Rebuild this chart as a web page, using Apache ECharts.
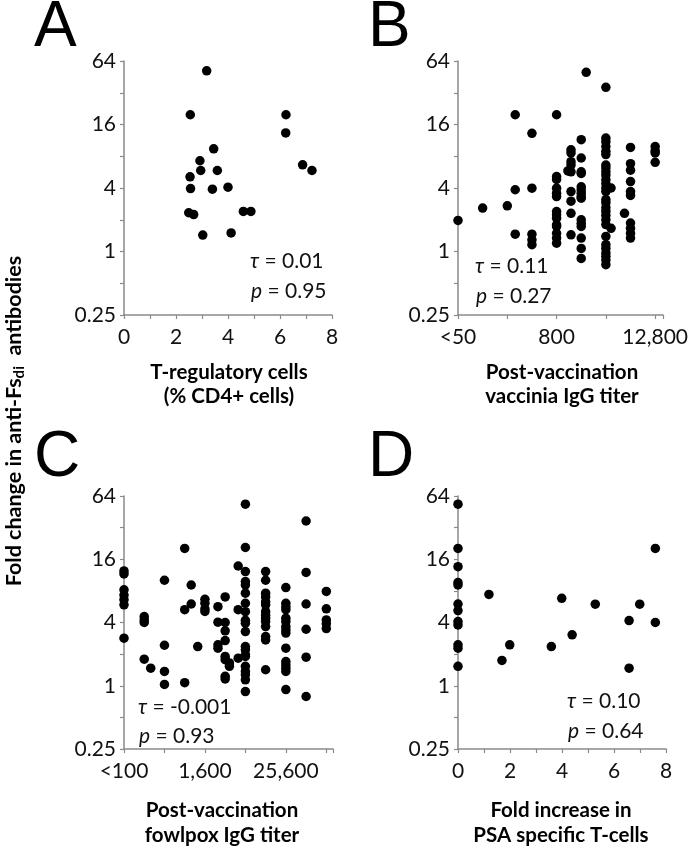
<!DOCTYPE html>
<html>
<head>
<meta charset="utf-8">
<script src="https://cdn.jsdelivr.net/npm/echarts@6/dist/echarts.min.js"></script>
<style>
html,body{margin:0;padding:0;background:#fff;}
#chart{width:691px;height:859px;}
</style>
</head>
<body>
<div id="chart"></div>
<script>
// ---------- Data ----------
// Panel A: T-regulatory cells (% CD4+) vs fold change
const aX = [3.18, 2.55, 6.23, 6.22, 3.45, 2.92, 2.95, 3.59, 2.54, 6.87, 7.23, 2.56, 3.40, 4.00, 2.49, 2.68, 4.59, 4.88, 3.03, 4.12];
const aY = [51.7, 19.8, 19.8, 13.3, 9.4, 7.25, 5.86, 5.86, 5.1, 6.63, 5.86, 3.95, 3.9, 4.07, 2.33, 2.24, 2.4, 2.4, 1.43, 1.5];

// Panel B: post-vaccination vaccinia IgG titer vs fold change
const bTiter = [50, 100, 200,
  250, 250, 250,
  400, 400, 400, 400, 400,
  800, 800, 800, 800, 800, 800, 800, 800, 800, 800, 800, 800, 800, 800,
  1100,
  1200, 1200, 1200, 1200, 1200, 1200, 1200, 1200, 1200,
  1600, 1600, 1600, 1600, 1600, 1600, 1600, 1600, 1600, 1600, 1600, 1600, 1600, 1600, 1600,
  1840,
  3200, 3200, 3200, 3200, 3200, 3200, 3200, 3200, 3200, 3200, 3200, 3200, 3200, 3200,
  3200, 3200, 3200, 3200, 3200, 3200, 3200, 3200, 3200, 3200, 3200, 3200, 3200, 3200,
  3700, 3700,
  5400,
  6400, 6400, 6400, 6400, 6400, 6400, 6400, 6400, 6400, 6400,
  12800, 12800, 12800, 12800];
const bFold = [1.97, 2.58, 2.71,
  19.8, 3.85, 1.46,
  13.2, 3.98, 1.46, 1.29, 1.16,
  19.8, 5.14, 4.82, 3.98, 3.57, 3.32, 2.39, 2.23, 2.07, 1.79, 1.73, 1.49, 1.34, 1.2,
  5.8,
  9.2, 8.6, 7.1, 6.6, 5.7, 3.7, 3.0, 2.3, 1.44,
  11.5, 7.7, 5.7, 5.5, 4.1, 3.85, 3.57, 3.32, 3.2, 2.0, 1.85, 1.73, 1.34, 1.07, 0.86,
  50,
  36, 11.9, 11.0, 9.9, 8.9, 8.3, 6.6, 6.2, 5.7, 5.3, 4.8, 4.4, 4.0, 3.7,
  3.1, 2.9, 2.6, 2.4, 2.2, 2.0, 1.8, 1.39, 1.16, 1.07, 0.97, 0.9, 0.83, 0.75,
  4.0, 1.66,
  2.3,
  9.7, 6.8, 5.9, 4.6, 3.7, 3.4, 1.86, 1.66, 1.49, 1.34,
  9.9, 9.0, 8.6, 7.0];

// Panel C: post-vaccination fowlpox IgG titer vs fold change
const cTiter = [100, 100, 100, 100, 100, 100, 100,
  200, 200, 200, 200,
  250,
  400, 400, 400, 400,
  800, 800, 800,
  1000, 1000,
  1250,
  1600, 1600, 1600, 1600,
  2500, 2500, 2500, 2500,
  3200, 3200, 3200, 3200, 3200, 3200, 3200, 3200,
  3700, 3700,
  5000, 5000, 5000,
  6400, 6400, 6400, 6400, 6400, 6400, 6400, 6400, 6400, 6400,
  6400, 6400, 6400, 6400, 6400, 6400, 6400, 6400, 6400, 6400,
  12800, 12800, 12800, 12800, 12800, 12800, 12800, 12800, 12800, 12800, 12800, 12800, 12800, 12800,
  25600, 25600, 25600, 25600, 25600, 25600, 25600, 25600, 25600, 25600, 25600, 25600, 25600, 25600, 25600,
  51200, 51200, 51200, 51200, 51200, 51200,
  102400, 102400, 102400, 102400, 102400];
const cFold = [12.4, 11.6, 8.2, 7.3, 6.6, 5.9, 2.84,
  4.55, 4.23, 4.0, 1.79,
  1.47,
  10.1, 2.43, 1.37, 1.03,
  20.3, 5.3, 1.07,
  9.1, 6.0,
  2.36,
  6.65, 6.1, 5.4, 5.1,
  5.66, 4.03, 2.45, 2.28,
  7.0, 4.0, 3.33, 2.69, 1.9, 1.77, 1.23, 1.16,
  1.65, 1.53,
  13.8, 5.3, 1.83,
  53.5, 20.7, 12.2, 9.8, 9.1, 7.6, 6.1, 5.07, 4.2, 3.94,
  3.28, 2.36, 2.2, 1.97, 1.9, 1.53, 1.37, 1.27, 1.14, 0.88,
  12.2, 10.1, 7.6, 7.0, 6.3, 5.9, 5.07, 4.7, 4.4, 4.08, 3.66, 2.94, 2.73, 1.42,
  8.6, 6.1, 5.66, 5.3, 4.4, 4.08, 3.66, 3.4, 3.17, 2.28, 1.7, 1.58, 1.47, 1.37, 0.92,
  37, 12.0, 6.0, 3.45, 1.87, 0.79,
  7.9, 5.4, 4.23, 3.9, 3.5];

// Panel D: fold increase in PSA specific T-cells vs fold change
const dX = [0, 0, 0, 0, 0, 0, 0, 0, 0, 0, 0, 0, 1.19, 1.69, 1.99, 3.59, 3.99, 4.39, 5.28, 6.58, 6.58, 6.99, 7.59, 7.59];
const dY = [53.5, 20.3, 13.6, 9.6, 9.1, 6.0, 5.2, 4.08, 3.79, 2.45, 2.28, 1.53, 7.4, 1.74, 2.45, 2.36, 6.8, 3.05, 5.97, 4.17, 1.47, 5.97, 20.3, 4.0];

// Tick labels
const yTickLabels = ['0.25', '', '1', '', '4', '', '16', '', '64'];   // log2 -2..6
const linTickLabels = ['0', '', '2', '', '4', '', '6', '', '8'];      // 0..8 step 1
const bTickLabels = ['<50', '', '800', '', '12,800'];                  // every 4x from 50
const cTickLabels = ['<100', '', '1,600', '', '25,600', ''];           // every 4x from 100

const panelLetters = ['A', 'B', 'C', 'D'];
const xTitles = [['T-regulatory cells', '(% CD4+ cells)'], ['Post-vaccination', 'vaccinia IgG titer'],
                 ['Post-vaccination', 'fowlpox IgG titer'], ['Fold increase in', 'PSA specific T-cells']];
const statsTau = ['0.01', '0.11', '-0.001', '0.10'];
const statsP = ['0.95', '0.27', '0.93', '0.64'];

// ---------- Build ----------
const FONT = 'Lato';
const AXC = '#8a8a8a';
const l2 = Math.log2;

function pts(xs, ys, fx) { return xs.map((x, i) => [fx(x), l2(ys[i])]); }

const grids = [
  {left: 124, top: 61, width: 208, height: 254},
  {left: 458, top: 61, width: 208, height: 254},
  {left: 124, top: 496, width: 209, height: 253},
  {left: 458, top: 496, width: 208, height: 253}
];

function yAxis(i) {
  return {
    gridIndex: i, type: 'value', min: -2, max: 6, interval: 1,
    axisLine: {show: true, lineStyle: {color: AXC, width: 1.5}},
    axisTick: {show: true, length: 4, lineStyle: {color: AXC, width: 1.2}},
    splitLine: {show: false},
    axisLabel: {margin: 8, color: '#111', fontFamily: FONT, fontSize: 21,
      formatter: v => yTickLabels[Math.round(v + 2)] || ''}
  };
}
function xAxis(i, min, max, interval, labels, step) {
  return {
    gridIndex: i, type: 'value', min: min, max: max, interval: interval,
    axisLine: {show: true, onZero: false, lineStyle: {color: AXC, width: 1.5}},
    axisTick: {show: true, length: 4, lineStyle: {color: AXC, width: 1.2}},
    splitLine: {show: false},
    axisLabel: {margin: 12, color: '#111', fontFamily: FONT, fontSize: 21, showMaxLabel: true,
      formatter: v => {
        const k = v / step;
        if (Math.abs(k - Math.round(k)) > 1e-6) return '';
        return labels[Math.round(k)] || '';
      }}
  };
}

const mk = {symbol: 'circle', symbolSize: 9.5, itemStyle: {color: '#000', opacity: 1}, clip: false, silent: true};

const series = [
  Object.assign({type: 'scatter', xAxisIndex: 0, yAxisIndex: 0, data: pts(aX, aY, x => x)}, mk),
  Object.assign({type: 'scatter', xAxisIndex: 1, yAxisIndex: 1, data: pts(bTiter, bFold, t => l2(t / 50))}, mk),
  Object.assign({type: 'scatter', xAxisIndex: 2, yAxisIndex: 2, data: pts(cTiter, cFold, t => l2(t / 100))}, mk),
  Object.assign({type: 'scatter', xAxisIndex: 3, yAxisIndex: 3, data: pts(dX, dY, x => x)}, mk)
];

const letterPos = [[34, 28], [368, 28], [34, 458], [368, 458]];
const titleCenters = [[229, 372, 396], [562, 372, 396], [222, 810, 835], [561, 810, 835]];
const statPos = [[250, 261, 291], [475, 266, 296], [138, 707, 736], [567, 701, 731]];

const graphic = [];
panelLetters.forEach((L, i) => {
  graphic.push({type: 'text', x: letterPos[i][0], y: letterPos[i][1],
    style: {text: L, fontFamily: 'Liberation Sans', fontSize: 64, fill: '#000', textAlign: 'left', textVerticalAlign: 'middle', verticalAlign: 'middle'}});
  const tc = titleCenters[i];
  xTitles[i].forEach((t, j) => {
    graphic.push({type: 'text', x: tc[0], y: tc[1 + j],
      style: {text: t, fontFamily: FONT, fontWeight: 'bold', fontSize: 20.5, fill: '#000', textAlign: 'center', verticalAlign: 'middle', textVerticalAlign: 'middle'}});
  });
  const sp = statPos[i];
  graphic.push({type: 'text', x: sp[0], y: sp[1],
    style: {text: '{i|τ} = ' + statsTau[i], fontFamily: FONT, fontSize: 21, fill: '#111', textAlign: 'left', verticalAlign: 'middle', textVerticalAlign: 'middle',
      rich: {i: {fontStyle: 'italic', fontFamily: FONT, fontSize: 21, fill: '#111'}}}});
  graphic.push({type: 'text', x: sp[0] + 1, y: sp[2],
    style: {text: '{i|p} = ' + statsP[i], fontFamily: FONT, fontSize: 21, fill: '#111', textAlign: 'left', verticalAlign: 'middle', textVerticalAlign: 'middle',
      rich: {i: {fontStyle: 'italic', fontFamily: FONT, fontSize: 21, fill: '#111'}}}});
});
graphic.push({type: 'text', x: 14, y: 421, rotation: Math.PI / 2,
  style: {text: '{a|Fold change in anti-Fs}{s|di}{a|  antibodies}', textAlign: 'center', verticalAlign: 'middle', textVerticalAlign: 'middle',
    rich: {
      a: {fontFamily: FONT, fontWeight: 'bold', fontSize: 21.5, fill: '#000', lineHeight: 24},
      s: {fontFamily: FONT, fontWeight: 'bold', fontSize: 15, fill: '#000', lineHeight: 24, padding: [10, 0, 0, 0]}
    }}});

const chart = echarts.init(document.getElementById('chart'), null, {renderer: 'canvas'});
chart.setOption({
  animation: false,
  backgroundColor: '#fff',
  grid: grids,
  xAxis: [
    xAxis(0, 0, 8, 1, linTickLabels, 1),
    xAxis(1, 0, 8.32, 2, bTickLabels, 2),
    xAxis(2, 0, 10.33, 2, cTickLabels, 2),
    xAxis(3, 0, 8, 1, linTickLabels, 1)
  ],
  yAxis: [yAxis(0), yAxis(1), yAxis(2), yAxis(3)],
  series: series,
  graphic: graphic
});
</script>
</body>
</html>
